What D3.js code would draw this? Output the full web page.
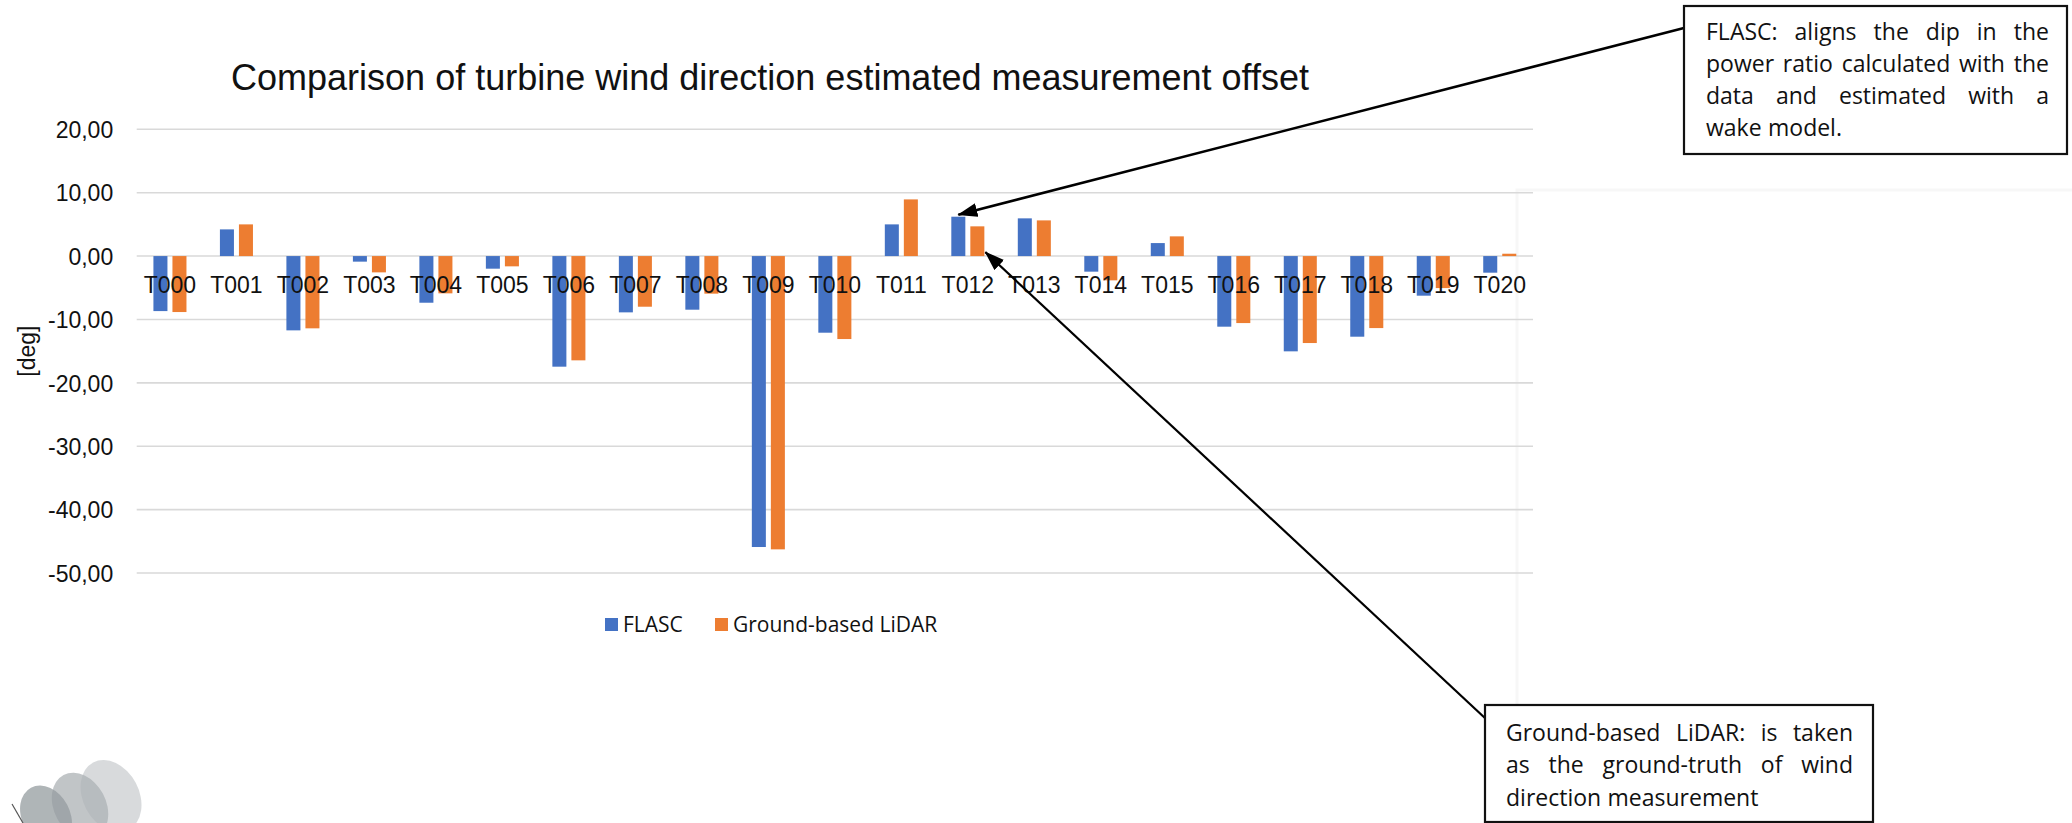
<!DOCTYPE html>
<html>
<head>
<meta charset="utf-8">
<script src="https://cdn.jsdelivr.net/npm/d3@7"></script>
<style>
  html, body { margin: 0; padding: 0; background: #fff; }
  svg { display: block; }
</style>
</head>
<body>
<svg id="chart" width="2072" height="823"></svg>
<script>
// Turbines and the two estimates of wind direction offset (degrees)
const categories = ["T000","T001","T002","T003","T004","T005","T006","T007","T008","T009","T010",
                    "T011","T012","T013","T014","T015","T016","T017","T018","T019","T020"];
const seriesNames = ["FLASC", "Ground-based LiDAR"];
const flasc = [-8.68, 4.21, -11.72, -0.88, -7.36, -1.99, -17.45, -8.88, -8.46, -45.90, -12.09,
               5.00, 6.21, 5.95, -2.46, 2.05, -11.14, -15.03, -12.72, -6.25, -2.62];
const lidar = [-8.83, 5.00, -11.40, -2.57, -5.88, -1.62, -16.45, -7.99, -5.93, -46.27, -13.09,
               8.94, 4.69, 5.63, -3.83, 3.11, -10.57, -13.72, -11.36, -5.05, 0.37];
const yTicks = [20, 10, 0, -10, -20, -30, -40, -50];
const colors = ["#4472C4", "#ED7D31"];

const titleText = "Comparison of turbine wind direction estimated measurement offset";
const yTitle = "[deg]";
const noteFlasc = ["FLASC: aligns the dip in the", "power ratio calculated with the",
                   "data and estimated with a", "wake model."];
const noteLidar = ["Ground-based LiDAR: is taken", "as the ground-truth of wind",
                   "direction measurement"];

const svg = d3.select("#chart");
const chartFont = "'Liberation Sans', Arial, sans-serif";
const noteFont = "'Open Sans', 'Liberation Sans', sans-serif";

// faint edge of the chart canvas on the right
svg.append("path")
  .attr("d", "M1517,823 V190 H2072")
  .attr("fill", "none").attr("stroke", "#f7f7f7").attr("stroke-width", 3);

// plot area
const plot = { left: 136.7, right: 1533, top: 129.3, bottom: 573 };

const x0 = d3.scaleBand().domain(categories).range([plot.left, plot.right]).padding(0);
const groupW = x0.bandwidth() * 0.497;
const x1 = d3.scaleBand().domain(seriesNames).range([0, groupW]).paddingInner(0.263);
const y = d3.scaleLinear().domain([-50, 20]).range([plot.bottom, plot.top]);

const loc = d3.formatLocale({ decimal: ",", thousands: ".", grouping: [3], currency: ["", ""], minus: "-" });
const fmt = loc.format(".2f");

// gridlines
svg.append("g").selectAll("line").data(yTicks).join("line")
  .attr("x1", plot.left).attr("x2", plot.right)
  .attr("y1", d => y(d)).attr("y2", d => y(d))
  .attr("stroke", "#d9d9d9").attr("stroke-width", 1.6);

// y axis labels
const yAxis = d3.axisLeft(y).tickValues(yTicks).tickFormat(fmt).tickSize(0).tickPadding(23.5);
const yg = svg.append("g").attr("transform", `translate(${plot.left},0)`).call(yAxis);
yg.select(".domain").remove();
yg.selectAll("text")
  .attr("font-family", chartFont).attr("font-size", 23).attr("fill", "#111")
  .attr("dy", "0.36em");

// bars
const seriesData = [flasc, lidar];
const groups = svg.append("g").selectAll("g").data(seriesData).join("g")
  .attr("fill", (d, i) => colors[i]);
groups.selectAll("rect").data((vals, si) => vals.map((v, ci) => ({ v, ci, si })))
  .join("rect")
  .attr("x", d => x0(categories[d.ci]) + (x0.bandwidth() - groupW) / 2 + x1(seriesNames[d.si]))
  .attr("width", x1.bandwidth())
  .attr("y", d => Math.min(y(d.v), y(0)))
  .attr("height", d => Math.abs(y(d.v) - y(0)));

// category labels sit just below the zero line
const xAxis = d3.axisBottom(x0).tickSize(0).tickPadding(0);
const xg = svg.append("g").attr("transform", `translate(0,${y(0)})`).call(xAxis);
xg.select(".domain").remove();
xg.selectAll("text")
  .attr("font-family", chartFont).attr("font-size", 23).attr("fill", "#111")
  .attr("y", 37).attr("dy", 0);

// title
svg.append("text")
  .attr("x", 770).attr("y", 90)
  .attr("text-anchor", "middle")
  .attr("font-family", chartFont).attr("font-size", 36).attr("fill", "#111")
  .text(titleText);

// y axis title
svg.append("text")
  .attr("transform", `translate(35,${(plot.top + plot.bottom) / 2}) rotate(-90)`)
  .attr("text-anchor", "middle")
  .attr("font-family", chartFont).attr("font-size", 23).attr("fill", "#111")
  .text(yTitle);

// legend
const legend = svg.append("g");
const legendItems = [{ name: seriesNames[0], sx: 605, tx: 623 }, { name: seriesNames[1], sx: 715, tx: 733 }];
legendItems.forEach((it, i) => {
  legend.append("rect").attr("x", it.sx).attr("y", 618).attr("width", 13).attr("height", 13).attr("fill", colors[i]);
  legend.append("text").attr("x", it.tx).attr("y", 631.5)
    .attr("font-family", noteFont).attr("font-size", 21).attr("fill", "#111").text(it.name);
});

// annotation boxes with justified text
function noteBox(bx, by, bw, bh, lines, tx, tw, firstBase, lineGap) {
  const g = svg.append("g");
  g.append("rect").attr("x", bx).attr("y", by).attr("width", bw).attr("height", bh)
    .attr("fill", "#fff").attr("stroke", "#111").attr("stroke-width", 2.2);
  lines.forEach((line, li) => {
    const words = line.split(" ");
    const ty = firstBase + li * lineGap;
    const t = g.append("text").attr("y", ty)
      .attr("font-family", noteFont).attr("font-size", 23).attr("fill", "#111");
    const spans = words.map(w => t.append("tspan").text(w));
    const widths = spans.map(s => s.node().getComputedTextLength());
    const total = d3.sum(widths);
    const last = li === lines.length - 1;
    const gap = (!last && words.length > 1) ? (tw - total) / (words.length - 1) : 6.4;
    let cx = tx;
    spans.forEach((s, k) => { s.attr("x", cx); cx += widths[k] + gap; });
  });
}

// arrows pointing at the T012 bars
const defs = svg.append("defs");
defs.append("marker").attr("id", "head")
  .attr("viewBox", "0 0 20 14").attr("refX", 19).attr("refY", 7)
  .attr("markerWidth", 20).attr("markerHeight", 14)
  .attr("markerUnits", "userSpaceOnUse").attr("orient", "auto")
  .append("path").attr("d", "M0,0 L20,7 L0,14 Z").attr("fill", "#000");

const iT = categories.indexOf("T012");
const baseX = x0("T012") + (x0.bandwidth() - groupW) / 2;
const tip1 = [baseX + x1(seriesNames[0]) + x1.bandwidth() / 2, y(flasc[iT]) - 2];
const tip2 = [baseX + x1(seriesNames[1]) + x1.bandwidth() + 1, y(0) - 4];

svg.append("line").attr("x1", 1684).attr("y1", 28).attr("x2", tip1[0]).attr("y2", tip1[1])
  .attr("stroke", "#000").attr("stroke-width", 2.6).attr("marker-end", "url(#head)");
svg.append("line").attr("x1", 1486).attr("y1", 719).attr("x2", tip2[0]).attr("y2", tip2[1])
  .attr("stroke", "#000").attr("stroke-width", 2.2).attr("marker-end", "url(#head)");

noteBox(1684, 6, 383, 148, noteFlasc, 1706, 343, 39.5, 32.3);
noteBox(1485, 705, 388, 117, noteLidar, 1506, 347, 741, 32.3);

// company logo: overlapping grey blades, bottom-left
const logo = svg.append("g").attr("opacity", 0.9);
[
  { cx: 111, cy: 796, rx: 28, ry: 38, c: "#c6cacc" },
  { cx: 80, cy: 806, rx: 26, ry: 35, c: "#a4aaad" },
  { cx: 46, cy: 816, rx: 24, ry: 32, c: "#8a9296" }
].forEach(e => {
  logo.append("ellipse").attr("cx", e.cx).attr("cy", e.cy).attr("rx", e.rx).attr("ry", e.ry)
    .attr("transform", `rotate(-28,${e.cx},${e.cy})`)
    .attr("fill", e.c).attr("fill-opacity", 0.75);
});
svg.append("line").attr("x1", 12).attr("y1", 804).attr("x2", 23).attr("y2", 823)
  .attr("stroke", "#555").attr("stroke-width", 1.2);
</script>
</body>
</html>
